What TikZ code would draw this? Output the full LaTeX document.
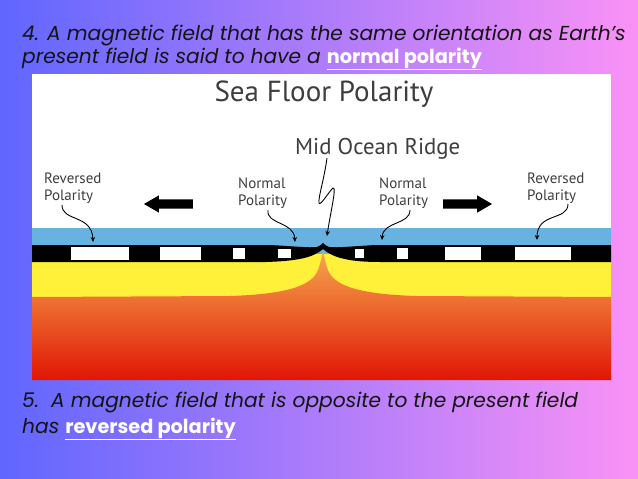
\documentclass[tikz,border=0pt]{standalone}
\usepackage{fontspec}
\setmainfont{Poppins}
\newfontfamily\tagfont{PT Sans}
\usepackage{xcolor}
\usetikzlibrary{arrows.meta,shapes.arrows}
\definecolor{slideL}{RGB}{96,102,255}
\definecolor{slideR}{RGB}{250,146,246}
\definecolor{water}{RGB}{104,178,226}
\definecolor{crust}{RGB}{255,240,58}
\definecolor{magmaT}{RGB}{246,168,78}
\definecolor{magmaM}{RGB}{238,112,56}
\definecolor{magmaB}{RGB}{224,22,6}
\definecolor{inkgray}{RGB}{62,62,62}
\newcommand\keyterm[1]{\textcolor{white}{\underline{\upshape\bfseries\fontsize{19.3}{24}\selectfont #1}}}

\begin{document}
\begin{tikzpicture}[x=1pt,y=-1pt,
  caption/.style={anchor=base west,inner sep=0,font=\fontsize{20.2}{24}\selectfont\itshape,text=black!92},
  tag/.style={anchor=base west,align=left,inner sep=0,font=\tagfont\fontsize{15}{17}\selectfont,text=inkgray},
  pointer/.style={-{Stealth[length=5pt,width=4.5pt]},line width=0.9pt},
  drift/.style={single arrow,fill=black,inner sep=4.5pt,minimum height=49pt,
    single arrow head extend=4pt,single arrow tip angle=60}]
  % slide background
  \shade[left color=slideL,right color=slideR] (0,0) rectangle (638,479);
  \node[caption] (T1) at (22,40) {4. A magnetic field that has the same orientation as Earth’s};
  \node[caption] (T2) at (22,63) {present field is said to have a \keyterm{normal polarity}};
  \node[caption] (T3) at (22,407) {5.\ \ A magnetic field that is opposite to the present field};
  \node[caption] (T4) at (22,433) {has \keyterm{reversed polarity}};
  % panel and layers
  \fill[white] (32,74) rectangle (611,380);
  \fill[water] (32,228) rectangle (611,262);
  \fill[crust] (32,254) rectangle (611,297);
  \shade[top color=magmaT,middle color=magmaM,bottom color=magmaB]
    (32,297) -- (230,296) .. controls (290,294) and (312,285) .. (318,270)
    .. controls (321,262) and (322,255) .. (323,250)
    .. controls (324,255) and (325,262) .. (328,270)
    .. controls (334,285) and (356,294) .. (416,296) -- (611,297)
    -- (611,380) -- (32,380) -- cycle;
  % magnetic stripes
  \fill[black] (32,245) -- (270,245) .. controls (290,246) and (310,248) .. (317,247)
    .. controls (320,246) and (322,244) .. (323,243)
    .. controls (324,244) and (326,246) .. (329,247)
    .. controls (336,248) and (356,246) .. (376,245) -- (611,245)
    -- (611,262) -- (380,262) .. controls (350,262) and (333,258) .. (323,249)
    .. controls (313,258) and (296,261) .. (266,262) -- (32,262) -- cycle;
  \foreach \a/\b/\t/\s in {71/129/247/260,160/201/247/260,233/245/248/259,278/291/249/258,
      355/364/249/258,397/408/248/259,445/481/247/260,515/571/247/260}
    \fill[white] (\a,\t) rectangle (\b,\s);
  % labels
  \node[anchor=base,inner sep=0,font=\tagfont\fontsize{29}{34}\selectfont,text=inkgray] (S) at (324,101) {Sea Floor Polarity};
  \node[tag,font=\tagfont\fontsize{22.8}{26}\selectfont] (M) at (295,154) {Mid Ocean Ridge};
  \node[tag] (RL) at (44,200) {Reversed\\Polarity};
  \node[tag] (NL) at (238,205) {Normal\\Polarity};
  \node[tag] (NR) at (379,205) {Normal\\Polarity};
  \node[tag] (RR) at (527,200) {Reversed\\Polarity};
  \node[drift,shape border rotate=180] (A) at (172.5,204) {};
  \node[drift] (B) at (463.5,204) {};
  % pointer ends
  \coordinate (a) at (93,242);
  \coordinate (b) at (295,242);
  \coordinate (c) at (327,236);
  \coordinate (d) at (382,240);
  \coordinate (e) at (537,240);
  \draw[pointer] ([xshift=18pt,yshift=-5pt]RL.base west) .. controls +(0,17) and (92,214) .. (a);
  \draw[pointer] ([xshift=30pt,yshift=-5pt]NL.base west) .. controls +(-2,15) and (294,221) .. (b);
  \draw[pointer] ([xshift=32pt,yshift=-4pt]M.base west) .. controls (324,180) and (318,198) .. (319,203)
    .. controls (320,207) and (330,190) .. (333,188) .. controls (337,186) and (330,215) .. (c);
  \draw[pointer] ([xshift=31pt,yshift=-5pt]NR.base west) .. controls +(0,15) and (383,221) .. (d);
  \draw[pointer] ([xshift=41pt,yshift=-4pt]RR.base west) .. controls +(0,17) and (537,212) .. (e);
\end{tikzpicture}
\end{document}
